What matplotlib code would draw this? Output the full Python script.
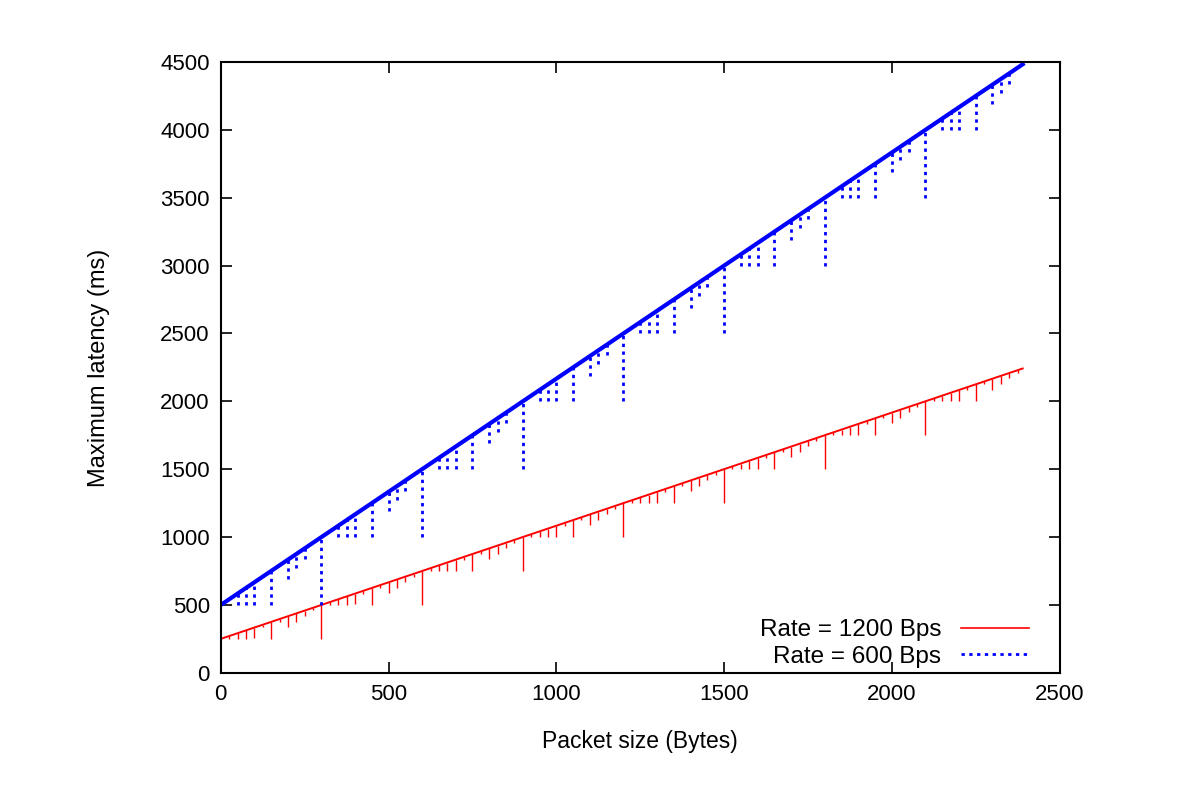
import numpy as np
import matplotlib.pyplot as plt
from matplotlib.lines import Line2D

# --- data ---
# overall trend of each series (packet size in bytes -> max latency in ms)
size_ends = [0, 2390]
lat1200_ends = [250, 2242]
lat600_ends = [500, 4483]

# rate 1200 Bps: dips below the trend (x position, depth in ms)
dips1200_x = [25, 50, 75, 100, 125, 150, 175, 200, 225, 250, 275, 300,
              325, 350, 375, 400, 425, 450, 475, 500, 525, 550, 575, 600,
              625, 650, 675, 700, 725, 750, 775, 800, 825, 850, 875, 900,
              925, 950, 975, 1000, 1025, 1050, 1075, 1100, 1125, 1150, 1175, 1200,
              1225, 1250, 1275, 1300, 1325, 1350, 1375, 1400, 1425, 1450, 1475, 1500,
              1525, 1550, 1575, 1600, 1625, 1650, 1675, 1700, 1725, 1750, 1775, 1800,
              1825, 1850, 1875, 1900, 1925, 1950, 1975, 2000, 2025, 2050, 2075, 2100,
              2125, 2150, 2175, 2200, 2225, 2250, 2275, 2300, 2325, 2350, 2375]
dips1200_d = [20, 40, 60, 80, 20, 125, 20, 80, 60, 40, 20, 250,
              20, 40, 60, 80, 20, 125, 20, 80, 60, 40, 20, 250,
              20, 40, 60, 80, 20, 125, 20, 80, 60, 40, 20, 250,
              20, 40, 60, 80, 20, 125, 20, 80, 60, 40, 20, 250,
              20, 40, 60, 80, 20, 125, 20, 80, 60, 40, 20, 250,
              20, 40, 60, 80, 20, 125, 20, 80, 60, 40, 20, 250,
              20, 40, 60, 80, 20, 125, 20, 80, 60, 40, 20, 250,
              20, 40, 60, 80, 20, 125, 20, 80, 60, 40, 20]

# rate 600 Bps: dips below the trend (x position, bottom value in ms)
dips600_x = [50, 75, 100, 150, 200, 225, 250, 300,
             350, 375, 400, 450, 500, 525, 550, 600,
             650, 675, 700, 750, 800, 825, 850, 900,
             950, 975, 1000, 1050, 1100, 1125, 1150, 1200,
             1250, 1275, 1300, 1350, 1400, 1425, 1450, 1500,
             1550, 1575, 1600, 1650, 1700, 1725, 1750, 1800,
             1850, 1875, 1900, 1950, 2000, 2025, 2050, 2100,
             2150, 2175, 2200, 2250, 2300, 2325, 2350]
dips600_b = [500, 500, 500, 500, 690, 775, 840, 500,
             1000, 1000, 1000, 1000, 1190, 1275, 1340, 1000,
             1500, 1500, 1500, 1500, 1690, 1775, 1840, 1500,
             2000, 2000, 2000, 2000, 2190, 2275, 2340, 2000,
             2500, 2500, 2500, 2500, 2690, 2775, 2840, 2500,
             3000, 3000, 3000, 3000, 3190, 3275, 3340, 3000,
             3500, 3500, 3500, 3500, 3690, 3775, 3840, 3500,
             4000, 4000, 4000, 4000, 4190, 4275, 4340]

red = '#ff0000'
blue = '#0000ff'

plt.rcParams['font.family'] = ['Liberation Sans', 'DejaVu Sans']
fig = plt.figure(figsize=(12, 8), dpi=100)
ax = fig.add_axes([0.184, 0.159, 0.699, 0.7635])

# rate 1200 Bps
ax.plot(size_ends, lat1200_ends, color=red, lw=1.4)
tops1200 = np.interp(dips1200_x, size_ends, lat1200_ends)
ax.vlines(dips1200_x, tops1200 - np.array(dips1200_d), tops1200, color=red, lw=1.0)

# rate 600 Bps
ax.plot(size_ends, lat600_ends, color=blue, lw=3.0)
tops600 = np.interp(dips600_x, size_ends, lat600_ends)
ax.vlines(dips600_x, dips600_b, tops600, color=blue, lw=2.0, linestyles=(0, (1.2, 1.6)))

ax.set_xlim(0, 2500)
ax.set_ylim(0, 4500)
ax.set_xticks(np.arange(0, 2501, 500))
ax.set_yticks(np.arange(0, 4501, 500))
ax.tick_params(direction='in', length=8, width=1.2, top=True, right=True,
               labelsize=16, pad=8)
for s in ax.spines.values():
    s.set_linewidth(1.5)

ax.set_xlabel('Packet size (Bytes)', fontsize=16.5, labelpad=18)
ax.set_ylabel('Maximum latency (ms)', fontsize=17, labelpad=36)

handles = [Line2D([], [], color=red, lw=1.2),
           Line2D([], [], color=blue, lw=2.0, linestyle=(0, (1.2, 1.6)))]
ax.legend(handles, ['Rate = 1200 Bps', 'Rate = 600 Bps'], loc='lower right',
          frameon=False, markerfirst=False, fontsize=17.5, handlelength=2.8,
          handletextpad=0.8, labelspacing=0.2, borderaxespad=0.0,
          bbox_to_anchor=(0.975, -0.008))

fig.savefig('out.png', dpi=100)
